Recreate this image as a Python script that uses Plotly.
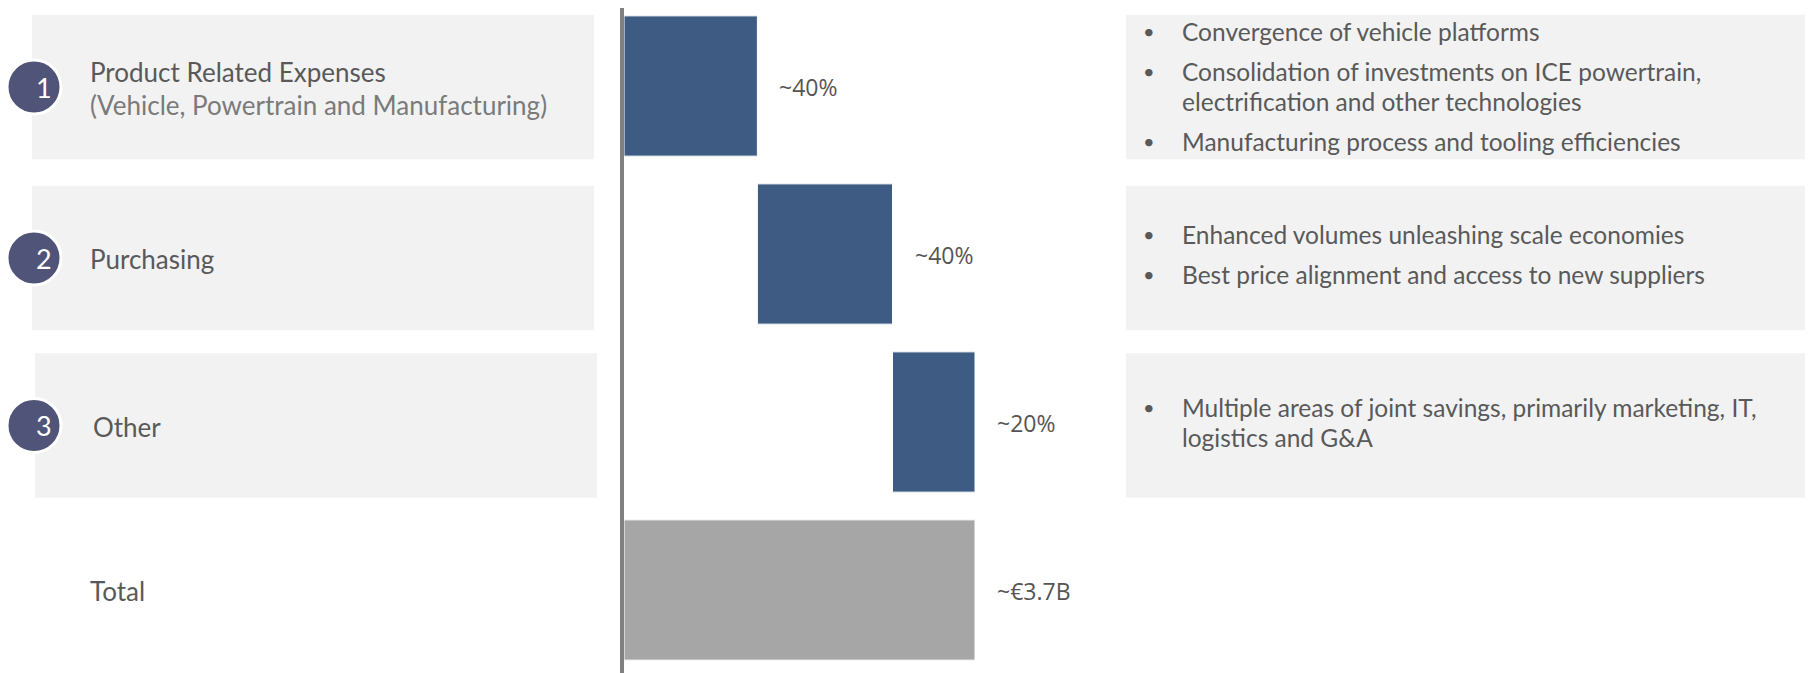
import plotly.graph_objects as go

# ---------------- data ----------------
categories = ["Product Related Expenses", "Purchasing", "Other", "Total"]
subtitles = ["(Vehicle, Powertrain and Manufacturing)", "", "", ""]
badges = ["1", "2", "3", ""]
share_values = [38, 38.5, 23.5]      # contribution widths
total_value = 100                    # total bar (= sum)
value_labels = ["~40%", "~40%", "~20%", "~€3.7B"]
bullets = [
    [["Convergence of vehicle platforms"],
     ["Consolidation of investments on ICE powertrain,", "electrification and other technologies"],
     ["Manufacturing process and tooling efficiencies"]],
    [["Enhanced volumes unleashing scale economies"],
     ["Best price alignment and access to new suppliers"]],
    [["Multiple areas of joint savings, primarily marketing, IT,", "logistics and G&A"]],
    [],
]

# ---------------- styles ----------------
W, H = 1814, 673
OFF = 8                      # page body margin
BLUE = "#3e5b84"
GREY_BAR = "#a6a6a6"
BOX = "#f2f2f2"
BADGE = "#505478"
TXT = "#595959"
FONT = "Lato"
ROW_PX = 168
BOX_SHIFT_PX = [1, 4, 3.5, 0]   # panel centres sit slightly below the bar centres


def px(xs):
    return (xs - OFF) / W


bases = []
acc = 0
for v in share_values:
    bases.append(acc)
    acc += v
x_vals = share_values + [total_value]
base_vals = bases + [0]
colors = [BLUE] * len(share_values) + [GREY_BAR]

fig = go.Figure()
fig.add_trace(go.Bar(
    y=categories, x=x_vals, base=base_vals, orientation="h",
    marker=dict(color=colors, line=dict(color="white", width=1)),
    width=0.835, hoverinfo="skip", showlegend=False,
))

# axis scaling (screen px): 0 -> 624, 100 -> 975
px_per_unit = (975 - 624) / 100
x0_fig = 624 - OFF
x_range = [-x0_fig / px_per_unit, (W - x0_fig) / px_per_unit]
y_top = (86 - OFF) / ROW_PX
y_range = [H / ROW_PX - y_top, -y_top]

shapes = []
annotations = []

# vertical axis line
shapes.append(dict(type="line", xref="x", yref="paper", x0=-0.57, x1=-0.57, y0=0, y1=1,
                   line=dict(color="#808080", width=4), layer="above"))

for i, cat in enumerate(categories):
    half = 0.43
    yc = i + BOX_SHIFT_PX[i] / ROW_PX
    if i < 3:
        lx0 = 32 if i < 2 else 35
        shapes.append(dict(type="rect", xref="paper", yref="y",
                           x0=px(lx0), x1=px(lx0 + 562), y0=yc - half, y1=yc + half,
                           fillcolor=BOX, line=dict(width=0), layer="below"))
        shapes.append(dict(type="rect", xref="paper", yref="y",
                           x0=px(1126), x1=px(1805), y0=yc - half, y1=yc + half,
                           fillcolor=BOX, line=dict(width=0), layer="below"))
    if badges[i]:
        shapes.append(dict(type="circle", xref="paper", yref="y",
                           xsizemode="pixel", ysizemode="pixel",
                           xanchor=px(34), yanchor=yc,
                           x0=-27, x1=27, y0=-27, y1=27,
                           fillcolor=BADGE, line=dict(color="white", width=3), layer="above"))
        annotations.append(dict(xref="paper", yref="y", x=px(34), y=yc, yshift=0,
                                text=badges[i], showarrow=False,
                                font=dict(family=FONT, size=27, color="white")))
    # category label
    lx = 91 if i == 2 else 88
    if subtitles[i]:
        annotations.append(dict(xref="paper", yref="y", x=px(lx), y=i, yshift=14,
                                xanchor="left", text=cat, showarrow=False,
                                font=dict(family=FONT, size=26, color=TXT)))
        annotations.append(dict(xref="paper", yref="y", x=px(lx), y=i, yshift=-19,
                                xanchor="left", text=subtitles[i], showarrow=False,
                                font=dict(family=FONT, size=26, color="#7a7a7a")))
    else:
        annotations.append(dict(xref="paper", yref="y", x=px(lx), y=yc, yshift=-1,
                                xanchor="left", text=cat, showarrow=False,
                                font=dict(family=FONT, size=26, color=TXT)))
    # value label
    annotations.append(dict(xref="x", yref="y", x=base_vals[i] + x_vals[i], y=i, yshift=-1,
                            xanchor="left", xshift=20, text=value_labels[i], showarrow=False,
                            font=dict(family="Open Sans", size=23, color="#555555")))
    # bullets
    paras = bullets[i]
    if paras:
        offsets = []
        pos = 0
        for p in paras:
            for k in range(len(p)):
                offsets.append((pos, k == 0, p[k]))
                pos += 30
            pos += 10
        total_h = pos - 10 - 30
        for off, is_first, line in offsets:
            ys = -(off - total_h / 2)
            if is_first:
                annotations.append(dict(xref="paper", yref="y", x=px(1149), y=i, yshift=ys,
                                        xanchor="center", text="•", showarrow=False,
                                        font=dict(family=FONT, size=20, color=TXT)))
            annotations.append(dict(xref="paper", yref="y", x=px(1180), y=i, yshift=ys,
                                    xanchor="left", text=line, showarrow=False,
                                    font=dict(family=FONT, size=24.5, color=TXT)))

fig.update_layout(
    width=W, height=H,
    margin=dict(l=0, r=0, t=0, b=0),
    paper_bgcolor="white", plot_bgcolor="white",
    xaxis=dict(range=x_range, visible=False, fixedrange=True),
    yaxis=dict(type="category", categoryorder="array", categoryarray=categories,
               range=y_range, visible=False, fixedrange=True),
    shapes=shapes, annotations=annotations,
    bargap=0.17,
)

fig.write_html("out.html")
